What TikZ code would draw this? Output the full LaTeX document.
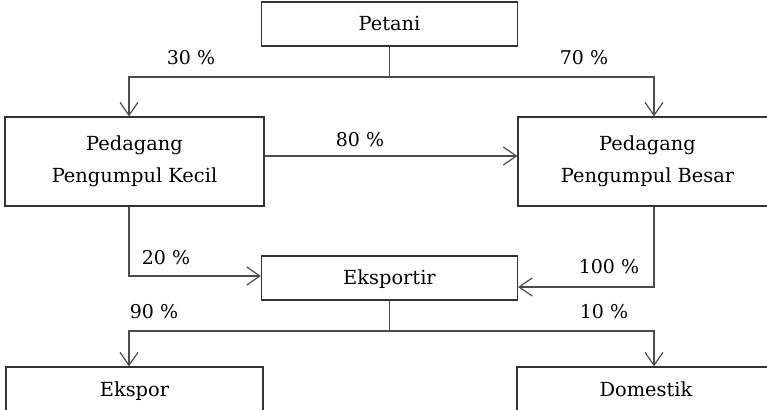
\documentclass[tikz,border=0pt]{standalone}
\usepackage{fontspec}
\setmainfont{DejaVu Serif}
\usetikzlibrary{arrows.meta,positioning,calc}

\begin{document}
\begin{tikzpicture}[x=0.5pt, y=-0.5pt,
    box/.style={draw=black!80, line width=0.6pt, minimum width=#1, inner sep=0pt, align=center, font=\fontsize{9.7}{16}\selectfont},
    oneline/.style={text height=8pt, text depth=1pt},
    arr/.style={draw=black!70, line width=0.6pt, -{Straight Barb[length=6.5pt, width=9pt]}},
    link/.style={draw=black!70, line width=0.6pt},
    pct/.style={font=\fontsize{9.5}{12}\selectfont, inner sep=0pt}]
    \useasboundingbox (0,0) rectangle (767,410);
    \clip (0,0) rectangle (767,410);
    % boxes
    \node[box=128pt, oneline, minimum height=22pt] (petani) at (389.5,24) {Petani};
    \node[box=129.5pt, minimum height=44.5pt] (kecil) at (134.5,161.5) {Pedagang\\Pengumpul Kecil};
    \node[box=129.5pt, minimum height=44.5pt] (besar) at (647.5,161.5) {Pedagang\\Pengumpul Besar};
    \node[box=128pt, oneline, minimum height=22pt] (eksportir) at (389.5,278) {Eksportir};
    \node[box=128.5pt, oneline, minimum height=23pt] (ekspor) at (134.5,390) {Ekspor};
    \node[box=129pt, oneline, minimum height=23pt] (domestik) at (646,390) {Domestik};
    % lanes and split points
    \coordinate (laneL) at (129,0);
    \coordinate (laneR) at (654,0);
    \coordinate (split1) at (389.5,77);
    \coordinate (split2) at (389.5,331);
    % petani to pedagang
    \draw[link] (petani.south) -- (split1);
    \draw[arr] (split1) -| (laneL |- kecil.north);
    \draw[arr] (split1) -| (laneR |- besar.north);
    \draw[arr] ([yshift=2.75pt]kecil.east) -- ([yshift=2.75pt]besar.west);
    % pedagang to eksportir
    \draw[arr] (laneL |- kecil.south) |- ([yshift=1pt]eksportir.west);
    \draw[arr] (laneR |- besar.south) |- ([yshift=-4.5pt]eksportir.east);
    % eksportir to market
    \draw[link] (eksportir.south) -- (split2);
    \draw[arr] (split2) -| (laneL |- ekspor.north);
    \draw[arr] (split2) -| (laneR |- domestik.north);
    % shares
    \node[pct] (p30) at (191,58) {30 \%};
    \node[pct] (p70) at (584,58) {70 \%};
    \node[pct] (p80) at (360,140) {80 \%};
    \node[pct] (p20) at (166,258) {20 \%};
    \node[pct] (p100) at (609,267) {100 \%};
    \node[pct] (p90) at (154,312) {90 \%};
    \node[pct] (p10) at (604,312) {10 \%};
\end{tikzpicture}
\end{document}
